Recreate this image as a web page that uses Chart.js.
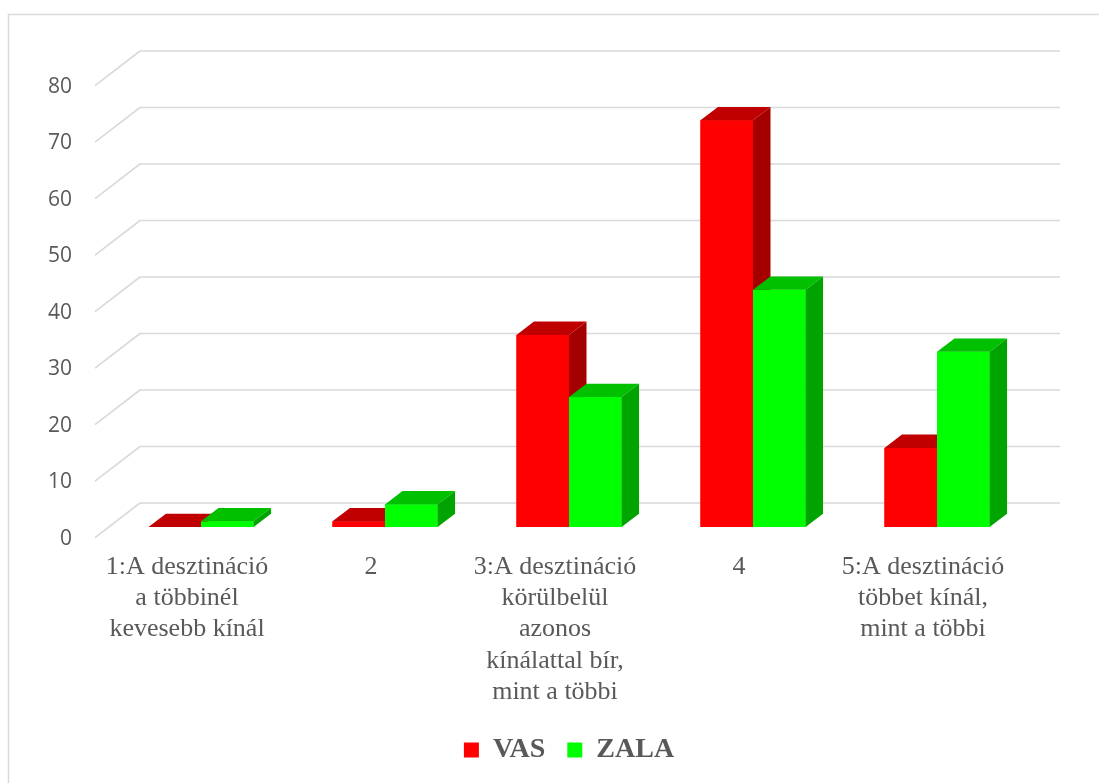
<!DOCTYPE html>
<html>
<head>
<meta charset="utf-8">
<script src="https://cdn.jsdelivr.net/npm/chart.js@4.4.1/dist/chart.umd.min.js"></script>
<style>
  html, body { margin: 0; padding: 0; background: #ffffff; }
  canvas { display: block; }
</style>
</head>
<body>
<canvas id="chart" width="1099" height="783"></canvas>
<script>
// Category labels (one entry per line of the label)
const categories = [
  ['1:A desztináció', 'a többinél', 'kevesebb kínál'],
  '2',
  ['3:A desztináció', 'körülbelül', 'azonos', 'kínálattal bír,', 'mint a többi'],
  '4',
  ['5:A desztináció', 'többet kínál,', 'mint a többi']
];
const seriesNames = ['VAS', 'ZALA'];
const vasValues = [0, 1, 34, 72, 14];
const zalaValues = [1, 4, 23, 42, 31];
const yMin = 0;
const yMax = 80;
const yStep = 10;

// Face colours for the 3D columns: front, top, side
const faceColors = [
  { front: '#FF0000', top: '#C00000', side: '#A40000' },
  { front: '#00FF00', top: '#00C000', side: '#00A400' }
];

// Perspective offsets relative to the plane of the column fronts
const BAR_DEPTH = { dx: 17.5, dy: -13.3 };
const FLOOR_FRONT = { dx: -14, dy: 10.6 };
const BACK_WALL = { dx: 31, dy: -24 };

const GRID_COLOR = '#d9d9d9';
const TEXT_COLOR = '#595959';

const depthPlugin = {
  id: 'depth3d',
  beforeDraw(chart) {
    // outer frame of the chart
    const ctx = chart.ctx;
    ctx.save();
    ctx.strokeStyle = '#d9d9d9';
    ctx.lineWidth = 1.5;
    ctx.strokeRect(8.5, 14.5, chart.width + 20, chart.height + 20);
    ctx.restore();
  },
  beforeDatasetsDraw(chart) {
    // floor-to-wall gridlines for each y tick
    const ctx = chart.ctx;
    const area = chart.chartArea;
    const yScale = chart.scales.y;
    ctx.save();
    ctx.strokeStyle = GRID_COLOR;
    ctx.lineWidth = 1.6;
    ctx.lineJoin = 'round';
    yScale.ticks.forEach(t => {
      const y = yScale.getPixelForValue(t.value);
      ctx.beginPath();
      ctx.moveTo(area.left + FLOOR_FRONT.dx, y + FLOOR_FRONT.dy);
      ctx.lineTo(area.left + BACK_WALL.dx, y + BACK_WALL.dy);
      ctx.lineTo(area.right + BACK_WALL.dx, y + BACK_WALL.dy);
      ctx.stroke();
    });
    ctx.restore();
  },
  afterDatasetsDraw(chart) {
    // columns painted series by series: front, top and side faces
    const ctx = chart.ctx;
    ctx.save();
    chart.data.datasets.forEach((ds, i) => {
      const meta = chart.getDatasetMeta(i);
      if (meta.hidden) return;
      const c = faceColors[i];
      meta.data.forEach(bar => {
        const p = bar.getProps(['x', 'y', 'base', 'width'], true);
        const l = p.x - p.width / 2;
        const r = p.x + p.width / 2;
        const top = Math.min(p.y, p.base);
        const bottom = Math.max(p.y, p.base);
        ctx.fillStyle = c.front;
        ctx.fillRect(l, top, r - l, bottom - top);
        ctx.fillStyle = c.top;
        ctx.beginPath();
        ctx.moveTo(l, top);
        ctx.lineTo(r, top);
        ctx.lineTo(r + BAR_DEPTH.dx, top + BAR_DEPTH.dy);
        ctx.lineTo(l + BAR_DEPTH.dx, top + BAR_DEPTH.dy);
        ctx.closePath();
        ctx.fill();
        ctx.fillStyle = c.side;
        ctx.beginPath();
        ctx.moveTo(r, top);
        ctx.lineTo(r + BAR_DEPTH.dx, top + BAR_DEPTH.dy);
        ctx.lineTo(r + BAR_DEPTH.dx, bottom + BAR_DEPTH.dy);
        ctx.lineTo(r, bottom);
        ctx.closePath();
        ctx.fill();
      });
    });
    ctx.restore();
  }
};

new Chart(document.getElementById('chart'), {
  type: 'bar',
  data: {
    labels: categories,
    datasets: [
      { label: seriesNames[0], data: vasValues, backgroundColor: faceColors[0].front, borderWidth: 0 },
      { label: seriesNames[1], data: zalaValues, backgroundColor: faceColors[1].front, borderWidth: 0 }
    ]
  },
  options: {
    responsive: false,
    animation: false,
    devicePixelRatio: 1,
    categoryPercentage: 0.571,
    barPercentage: 1.0,
    layout: { padding: { top: 75, left: 0, right: 70, bottom: 9 } },
    plugins: {
      tooltip: { enabled: false },
      legend: {
        position: 'bottom',
        fullSize: false,
        labels: {
          boxWidth: 15,
          boxHeight: 15,
          padding: 22,
          color: TEXT_COLOR,
          font: { family: '"Liberation Serif", "Times New Roman", serif', size: 28, weight: 'bold' }
        }
      }
    },
    scales: {
      x: {
        grid: { display: false, drawTicks: false },
        border: { display: false },
        ticks: {
          color: TEXT_COLOR,
          padding: 24,
          labelOffset: FLOOR_FRONT.dx,
          maxRotation: 0,
          autoSkip: false,
          font: { family: '"Liberation Serif", "Times New Roman", serif', size: 26, lineHeight: 1.21 }
        },
        afterFit(scale) { scale.height = 187; }
      },
      y: {
        min: yMin,
        max: yMax,
        grid: { display: false, drawTicks: false },
        border: { display: false },
        ticks: {
          stepSize: yStep,
          color: TEXT_COLOR,
          padding: 37,
          labelOffset: 12,
          font: { family: '"Open Sans", sans-serif', size: 21 }
        },
        afterFit(scale) { scale.width = 109; }
      }
    }
  },
  plugins: [depthPlugin]
});
</script>
</body>
</html>
